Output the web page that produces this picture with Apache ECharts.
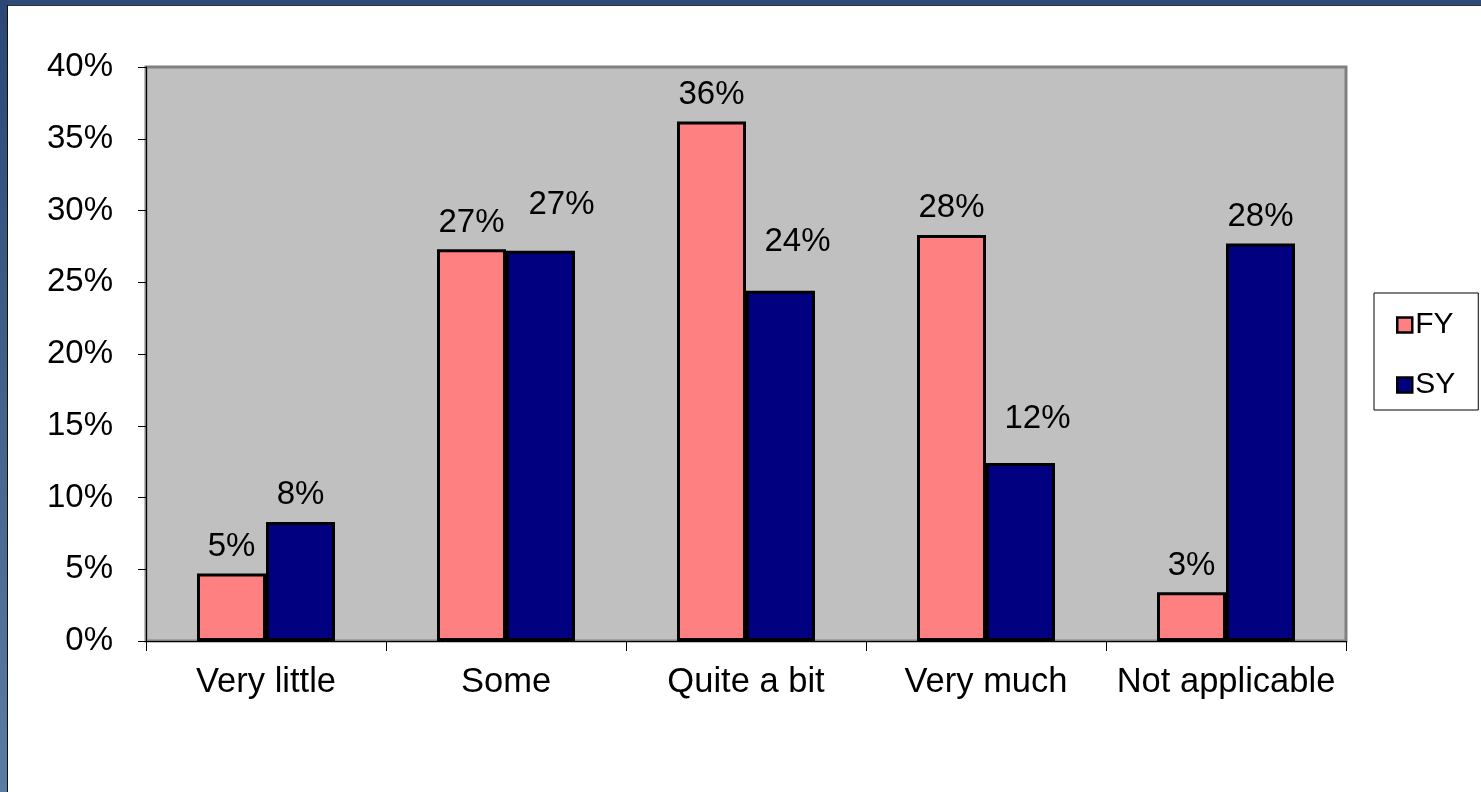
<!DOCTYPE html>
<html>
<head>
<meta charset="utf-8">
<script src="https://cdn.jsdelivr.net/npm/echarts@6/dist/echarts.min.js"></script>
<style>
html,body{margin:0;padding:0;background:#fff;}
#chart{width:1481px;height:792px;}
</style>
</head>
<body>
<div id="chart"></div>
<script>
const categories = ['Very little', 'Some', 'Quite a bit', 'Very much', 'Not applicable'];
const seriesNames = ['FY', 'SY'];
const fyValues = [4.7, 27.3, 36.2, 28.3, 3.4];
const syValues = [8.3, 27.2, 24.4, 12.4, 27.7];
const yTicks = { min: 0, max: 40, interval: 5 };

const FONT = 'Liberation Sans, Arial, sans-serif';
const chart = echarts.init(document.getElementById('chart'), null, { renderer: 'canvas' });

const labelOpt = {
  show: true,
  position: 'top',
  distance: 10,
  color: '#000',
  fontFamily: FONT,
  fontSize: 33,
  formatter: p => Math.round(p.value) + '%'
};

// label nudges (as in the original layout, some SY labels sit up and to the right)
const syLabelShift = [null, [21, -19], [17, -22], [17, -18], null];

chart.setOption({
  backgroundColor: '#fff',
  animation: false,
  graphic: [
    { type: 'rect', shape: { x: 0, y: 0, width: 1481, height: 5 }, style: { fill: '#2E4A76' }, z: 100 },
    { type: 'rect', shape: { x: 0, y: 5, width: 1481, height: 1 }, style: { fill: '#333' }, z: 100 },
    { type: 'rect', shape: { x: 0, y: 0, width: 7, height: 792 },
      style: { fill: new echarts.graphic.LinearGradient(0, 0, 0, 1, [
        { offset: 0, color: '#2C4775' }, { offset: 1, color: '#5B7CA2' }]) }, z: 100 },
    { type: 'rect', shape: { x: 7, y: 5, width: 1, height: 787 }, style: { fill: '#111' }, z: 100 }
  ],
  grid: {
    left: 146, right: 135, top: 67, bottom: 151,
    show: true,
    backgroundColor: '#C0C0C0',
    borderColor: '#808080',
    borderWidth: 3,
    containLabel: false
  },
  legend: {
    orient: 'vertical',
    left: 1374,
    top: 293,
    padding: [17, 23, 10, 22],
    backgroundColor: '#fff',
    borderColor: '#000',
    borderWidth: 1,
    itemWidth: 15,
    itemHeight: 15,
    itemGap: 30,
    icon: 'rect',
    itemStyle: { borderColor: '#000', borderWidth: 2.5 },
    textStyle: { fontFamily: FONT, fontSize: 30, color: '#000', padding: [0, 0, 0, -2] },
    data: seriesNames
  },
  xAxis: {
    type: 'category',
    data: categories,
    axisLine: { show: true, lineStyle: { color: '#000', width: 1 } },
    axisTick: { show: true, length: 10, inside: false, interval: 0, alignWithLabel: false, lineStyle: { color: '#000' } },
    axisLabel: { fontFamily: FONT, fontSize: 34.5, color: '#000', margin: 24, interval: 0 },
    splitLine: { show: false }
  },
  yAxis: {
    type: 'value',
    min: yTicks.min,
    max: yTicks.max,
    interval: yTicks.interval,
    axisLine: { show: true, lineStyle: { color: '#000', width: 1 } },
    axisTick: { show: true, length: 8, inside: false, lineStyle: { color: '#000' } },
    axisLabel: { fontFamily: FONT, fontSize: 33, color: '#000', margin: 33, formatter: '{value}%' },
    splitLine: { show: false }
  },
  series: [
    {
      name: 'FY', type: 'bar', data: fyValues, barWidth: 69, barGap: '0%',
      itemStyle: { color: '#FF8080', borderColor: '#000', borderWidth: 3 },
      label: labelOpt
    },
    {
      name: 'SY', type: 'bar', barWidth: 69, barGap: '0%',
      data: syValues.map((v, i) => syLabelShift[i] ? { value: v, label: { offset: syLabelShift[i] } } : v),
      itemStyle: { color: '#000080', borderColor: '#000', borderWidth: 3 },
      label: labelOpt
    }
  ]
});
</script>
</body>
</html>
